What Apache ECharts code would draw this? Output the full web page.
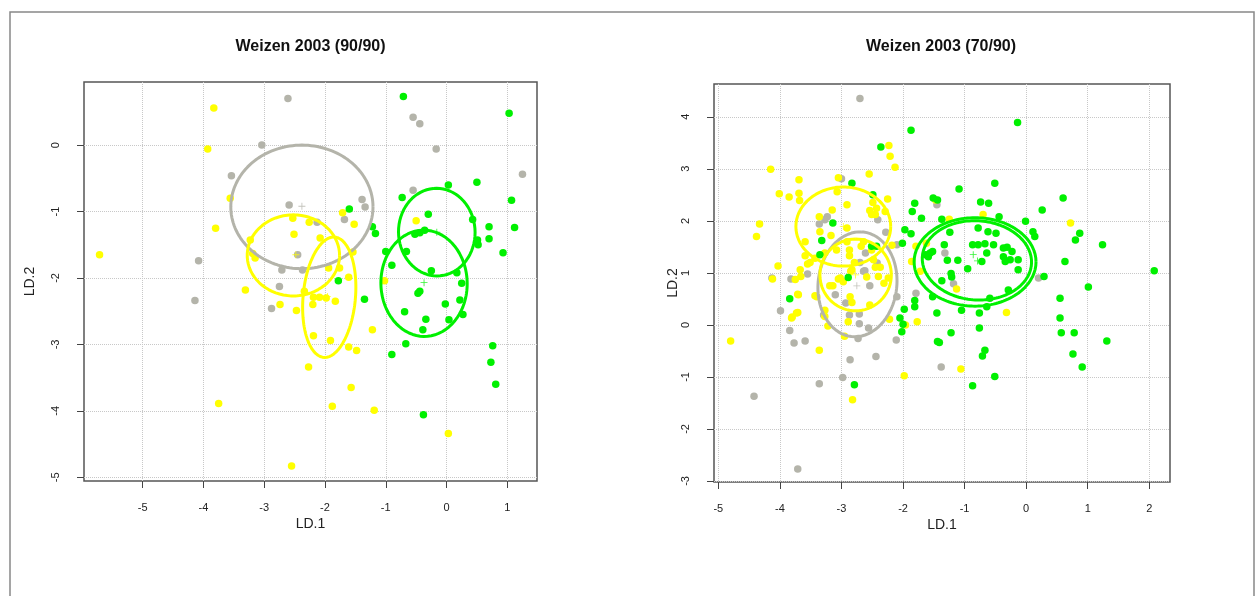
<!DOCTYPE html>
<html><head><meta charset="utf-8">
<script src="https://cdn.jsdelivr.net/npm/echarts@6/dist/echarts.min.js"></script>
<style>html,body{margin:0;padding:0;background:#fff}#c{width:1257px;height:596px}</style>
</head><body><div id="c"></div>
<script>
const titles = ['Weizen 2003 (90/90)', 'Weizen 2003 (70/90)'];
const axisNames = ['LD.1', 'LD.2'];
const xTicksL = [-5, -4, -3, -2, -1, 0, 1];
const yTicksL = [-5, -4, -3, -2, -1, 0];
const xTicksR = [-5, -4, -3, -2, -1, 0, 1, 2];
const yTicksR = [-3, -2, -1, 0, 1, 2, 3, 4];

// Left panel (90/90)
const leftGray = [[-2.61,0.70],[-3.04,0.00],[-3.54,-0.46],[-2.59,-0.90],[-4.08,-1.74],[-2.71,-1.88],[-2.37,-1.88],[-4.14,-2.34],[-2.75,-2.13],[-2.88,-2.46],[-0.55,0.42],[-0.44,0.32],[-0.17,-0.06],[1.25,-0.44],[-0.55,-0.68],[-1.39,-0.82],[-1.34,-0.93],[-1.68,-1.12],[-2.45,-1.65],[-2.13,-1.16]];
const leftYellow = [[-3.83,0.56],[-3.93,-0.06],[-3.56,-0.80],[-3.80,-1.25],[-5.71,-1.65],[-2.51,-1.34],[-2.53,-1.10],[-3.23,-1.43],[-3.19,-1.63],[-3.15,-1.70],[-3.31,-2.18],[-2.74,-2.40],[-2.47,-2.49],[-2.34,-2.20],[-2.19,-2.29],[-2.09,-2.29],[-1.98,-2.30],[-1.83,-2.35],[-2.20,-2.40],[-2.27,-3.34],[-3.75,-3.89],[-2.55,-4.83],[-1.71,-1.02],[-1.52,-1.19],[-0.50,-1.14],[-2.26,-1.16],[-2.08,-1.40],[-1.94,-1.85],[-1.76,-1.85],[-1.61,-1.99],[-1.02,-2.04],[-2.19,-2.87],[-1.91,-2.94],[-1.61,-3.04],[-1.48,-3.09],[-1.22,-2.78],[-1.57,-3.65],[-1.88,-3.93],[-1.19,-3.99],[0.03,-4.34],[-1.54,-1.61]];
const leftGreen = [[-0.71,0.73],[1.03,0.48],[0.03,-0.60],[0.50,-0.56],[-0.73,-0.79],[1.07,-0.83],[-1.60,-0.96],[-0.30,-1.04],[-1.22,-1.23],[-1.17,-1.33],[0.70,-1.23],[1.12,-1.24],[0.43,-1.12],[-0.52,-1.34],[-0.44,-1.32],[-0.36,-1.28],[0.51,-1.43],[0.52,-1.50],[0.70,-1.41],[0.93,-1.62],[-1.00,-1.60],[-0.66,-1.60],[-0.90,-1.81],[-0.25,-1.89],[0.17,-1.92],[-1.78,-2.04],[-1.35,-2.32],[-0.44,-2.20],[-0.47,-2.23],[-0.02,-2.39],[0.22,-2.33],[0.25,-2.08],[0.27,-2.55],[0.04,-2.63],[-0.69,-2.51],[-0.34,-2.62],[-0.39,-2.78],[-0.67,-2.99],[-0.90,-3.15],[0.76,-3.02],[0.73,-3.27],[0.81,-3.60],[-0.38,-4.06]];
// ellipses: [centerX, centerY, semiAxisA, semiAxisB, angleDeg]
const leftGrayEllipses = [[-2.38,-0.93,1.17,0.93,0]];
const leftYellowEllipses = [[-2.52,-1.66,0.76,0.61,0],[-1.93,-2.29,0.91,0.43,84]];
const leftGreenEllipses = [[-0.16,-1.31,0.66,0.63,95],[-0.37,-2.08,0.80,0.71,92]];
const leftCenters = {gray: [[-2.38,-0.92]], yellow: [[-2.48,-1.65],[-1.96,-2.28]], green: [[-0.37,-2.07],[-0.16,-1.31]]};

// Right panel (70/90)
const rightGray = [[-2.70,4.35],[-3.00,2.81],[-2.41,2.02],[-3.23,2.08],[-3.27,2.02],[-3.36,1.94],[-2.28,1.78],[-2.10,1.54],[-2.61,1.38],[-2.42,1.19],[-3.55,0.98],[-3.82,0.88],[-4.13,0.90],[-2.64,1.03],[-2.70,1.20],[-2.62,1.04],[-2.54,0.75],[-2.10,0.54],[-3.10,0.58],[-2.93,0.42],[-3.99,0.27],[-3.84,-0.11],[-2.87,0.19],[-2.71,0.02],[-2.56,-0.06],[-3.29,0.19],[-3.77,-0.35],[-3.59,-0.31],[-3.36,-1.13],[-4.42,-1.37],[-3.71,-2.77],[-2.98,-1.01],[-2.86,-0.67],[-2.44,-0.61],[-2.11,-0.29],[-2.73,-0.26],[-2.71,0.21],[-1.79,0.61],[-1.38,-0.81],[-1.45,2.31],[-1.32,1.38],[0.20,0.90],[-1.18,0.79]];
const rightYellow = [[-2.23,3.45],[-2.21,3.24],[-2.13,3.03],[-4.15,2.99],[-3.69,2.79],[-3.05,2.83],[-2.55,2.90],[-4.01,2.52],[-3.85,2.46],[-3.69,2.53],[-3.68,2.39],[-3.07,2.56],[-2.25,2.42],[-2.49,2.35],[-2.43,2.24],[-2.91,2.31],[-3.15,2.21],[-2.29,2.18],[-2.51,2.12],[-3.36,2.08],[-4.33,1.94],[-4.38,1.70],[-3.35,1.79],[-2.91,1.86],[-3.17,1.72],[-3.59,1.60],[-2.18,1.53],[-2.91,1.60],[-2.64,1.60],[-2.87,1.33],[-3.27,1.38],[-3.08,1.44],[-2.48,1.25],[-1.86,1.22],[-4.03,1.13],[-3.55,1.17],[-3.67,1.06],[-2.85,1.03],[-3.05,0.88],[-2.54,2.20],[-2.45,2.12],[-2.87,1.44],[-2.68,1.51],[-2.51,1.44],[-3.59,1.33],[-3.51,1.20],[-3.43,1.28],[-3.66,0.93],[-4.12,0.88],[-3.75,0.87],[-3.02,0.90],[-2.97,0.83],[-3.19,0.75],[-3.14,0.75],[-2.83,1.06],[-2.79,1.20],[-2.59,0.92],[-2.40,0.93],[-2.45,1.11],[-2.37,1.11],[-2.24,0.90],[-2.31,0.80],[-2.86,0.54],[-2.83,0.43],[-3.70,0.58],[-3.43,0.56],[-3.27,0.28],[-3.80,0.15],[-3.73,0.23],[-2.89,0.06],[-1.96,0.00],[-3.71,0.59],[-3.71,0.24],[-3.81,0.13],[-4.80,-0.31],[-3.36,-0.49],[-2.82,-1.44],[-2.95,-0.22],[-3.22,-0.02],[-3.27,0.16],[-3.40,0.54],[-2.54,0.38],[-2.22,0.11],[-1.77,0.06],[-1.98,-0.98],[-1.79,1.51],[-1.62,1.57],[-1.72,1.03],[-1.47,2.40],[-1.25,2.03],[-0.70,2.12],[0.72,1.96],[-1.13,0.69],[-0.32,0.24],[-1.06,-0.85]];
const rightGreen = [[-1.87,3.74],[-2.36,3.42],[-2.83,2.72],[-2.49,2.50],[-3.14,1.96],[-3.32,1.62],[-1.97,1.83],[-1.87,1.75],[-2.01,1.57],[-2.51,1.51],[-2.43,1.51],[-3.35,1.35],[-2.89,0.91],[-1.51,2.44],[-1.44,2.40],[-1.81,2.34],[-1.85,2.18],[-1.70,2.05],[-1.56,1.38],[-1.59,1.31],[-3.84,0.50],[-1.98,0.30],[-2.05,0.13],[-2.00,0.01],[-2.02,-0.13],[-2.79,-1.15],[-1.81,0.47],[-1.81,0.35],[-1.52,0.54],[-1.45,0.23],[-1.44,-0.32],[-0.14,3.89],[-0.51,2.72],[-1.09,2.61],[-0.74,2.36],[-0.61,2.34],[0.60,2.44],[0.26,2.21],[-1.37,2.03],[-0.44,2.08],[-0.01,1.99],[0.87,1.76],[0.80,1.63],[1.24,1.54],[2.08,1.04],[0.63,1.22],[0.11,1.79],[0.14,1.70],[0.29,0.93],[-1.24,1.78],[-0.78,1.86],[-0.62,1.79],[-0.49,1.76],[-1.33,1.54],[-0.87,1.54],[-0.78,1.54],[-0.67,1.56],[-0.53,1.54],[-0.37,1.48],[-0.31,1.49],[-0.23,1.41],[-1.52,1.41],[-1.63,1.35],[-1.11,1.24],[-1.28,1.24],[-0.64,1.38],[-0.72,1.22],[-0.37,1.31],[-0.34,1.22],[-0.26,1.25],[-0.13,1.25],[-0.13,1.06],[-0.95,1.08],[-1.22,0.99],[-1.21,0.92],[-1.37,0.85],[-1.05,0.28],[-0.76,0.23],[-0.59,0.51],[-0.64,0.35],[-0.29,0.67],[-0.76,-0.06],[-1.22,-0.15],[-1.41,-0.34],[-0.67,-0.49],[-0.71,-0.60],[-0.51,-0.99],[-0.87,-1.17],[1.01,0.73],[0.55,0.51],[0.55,0.13],[0.57,-0.15],[0.78,-0.15],[1.31,-0.31],[0.76,-0.56],[0.91,-0.81]];
const rightGrayEllipses = [[-2.74,0.78,1.01,0.64,86]];
const rightYellowEllipses = [[-2.97,1.89,0.77,0.76,0],[-2.77,0.96,0.69,0.58,90]];
const rightGreenEllipses = [[-0.83,1.21,0.99,0.85,0],[-0.80,1.24,0.89,0.76,-8]];
const rightCenters = {gray: [[-2.75,0.75]], yellow: [[-2.97,1.89],[-2.77,0.96]], green: [[-0.86,1.35],[-0.79,1.23]]};

const COL = {gray: '#b4b4aa', yellow: '#ffff00', green: '#00f000'};
const PLUS = 'path://M-0.12,-1H0.12V-0.12H1V0.12H0.12V1H-0.12V0.12H-1V-0.12H-0.12Z';

function ellipsePts(e) {
  const [cx, cy, a, b, ang] = e;
  const th = ang * Math.PI / 180, pts = [];
  for (let i = 0; i <= 144; i++) {
    const t = i / 144 * 2 * Math.PI;
    pts.push([cx + a * Math.cos(th) * Math.cos(t) - b * Math.sin(th) * Math.sin(t),
              cy + a * Math.sin(th) * Math.cos(t) + b * Math.cos(th) * Math.sin(t)]);
  }
  return pts;
}

const labelFont = 'Liberation Sans';
function xAxis(gi, min, max, ticks) {
  return {
    gridIndex: gi, type: 'value', min: min, max: max, position: 'bottom',
    name: axisNames[0], nameLocation: 'middle', nameGap: 36, nameMoveOverlap: false,
    nameTextStyle: {fontSize: 14, color: '#222', fontFamily: labelFont},
    axisLine: {show: false, onZero: false},
    axisTick: {show: true, inside: false, length: 7, customValues: ticks, lineStyle: {color: '#444', width: 1}},
    axisLabel: {customValues: ticks, margin: 21, fontSize: 11, color: '#222', fontFamily: labelFont},
    splitLine: {show: true, lineStyle: {type: 'dotted', color: '#c8c8c8', width: 1}}
  };
}
function yAxis(gi, min, max, ticks, gap) {
  return {
    gridIndex: gi, type: 'value', min: min, max: max, position: 'left',
    name: axisNames[1], nameLocation: 'middle', nameGap: gap, nameRotate: 90, nameMoveOverlap: false,
    nameTextStyle: {fontSize: 14, color: '#222', fontFamily: labelFont},
    axisLine: {show: false, onZero: false},
    axisTick: {show: true, inside: false, length: 7, customValues: ticks, lineStyle: {color: '#444', width: 1}},
    axisLabel: {customValues: ticks, margin: 23, rotate: 90, fontSize: 11, color: '#222', fontFamily: labelFont},
    splitLine: {show: true, lineStyle: {type: 'dotted', color: '#c8c8c8', width: 1}}
  };
}

const series = [];
function addPanel(gi, pts, ells, centers) {
  ['gray', 'yellow', 'green'].forEach(k => {
    series.push({type: 'scatter', xAxisIndex: gi, yAxisIndex: gi, data: pts[k], symbolSize: 7.5,
      itemStyle: {color: COL[k], opacity: 1}, silent: true, z: 2});
  });
  ['gray', 'yellow', 'green'].forEach(k => {
    ells[k].forEach(e => {
      series.push({type: 'line', xAxisIndex: gi, yAxisIndex: gi, data: ellipsePts(e), showSymbol: false,
        smooth: false, lineStyle: {color: COL[k], width: 3}, silent: true, z: 3, clip: true});
    });
  });
  ['gray', 'yellow', 'green'].forEach(k => {
    series.push({type: 'scatter', xAxisIndex: gi, yAxisIndex: gi, data: centers[k], symbol: PLUS, symbolSize: 7,
      itemStyle: {color: COL[k]}, silent: true, z: 4});
  });
}
addPanel(0, {gray: leftGray, yellow: leftYellow, green: leftGreen},
  {gray: leftGrayEllipses, yellow: leftYellowEllipses, green: leftGreenEllipses}, leftCenters);
addPanel(1, {gray: rightGray, yellow: rightYellow, green: rightGreen},
  {gray: rightGrayEllipses, yellow: rightYellowEllipses, green: rightGreenEllipses}, rightCenters);

const chart = echarts.init(document.getElementById('c'), null, {renderer: 'canvas'});
chart.setOption({
  backgroundColor: '#ffffff',
  animation: false,
  grid: [
    {left: 84, top: 82, width: 453, height: 399, show: true, borderColor: '#555', borderWidth: 1.5, backgroundColor: 'transparent'},
    {left: 714, top: 84, width: 456, height: 398, show: true, borderColor: '#555', borderWidth: 1.5, backgroundColor: 'transparent'}
  ],
  xAxis: [xAxis(0, -5.966, 1.489, xTicksL), xAxis(1, -5.07, 2.336, xTicksR)],
  yAxis: [yAxis(0, -5.056, 0.95, yTicksL, 47), yAxis(1, -3.02, 4.63, yTicksR, 34)],
  series: series,
  graphic: [
    {type: 'rect', shape: {x: 10, y: 12, width: 1244, height: 620}, style: {fill: 'none', stroke: '#888', lineWidth: 1.5}, z: -1},
    {type: 'text', x: 310.5, y: 47, style: {text: titles[0], fontSize: 16, fontWeight: 'bold', fontFamily: 'Liberation Sans', fill: '#111', textAlign: 'center', textVerticalAlign: 'middle'}},
    {type: 'text', x: 941, y: 47, style: {text: titles[1], fontSize: 16, fontWeight: 'bold', fontFamily: 'Liberation Sans', fill: '#111', textAlign: 'center', textVerticalAlign: 'middle'}}
  ]
});
</script>
</body></html>
